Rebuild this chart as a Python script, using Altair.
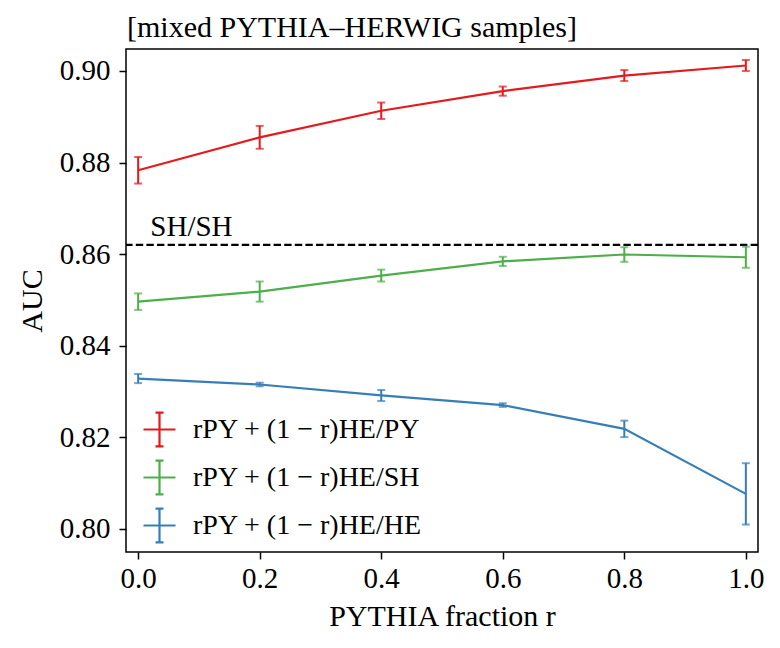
import altair as alt
import pandas as pd

# ---- data ----
r_values = [0.0, 0.2, 0.4, 0.6, 0.8, 1.0]
series_names = ["rPY + (1 − r)HE/PY", "rPY + (1 − r)HE/SH", "rPY + (1 − r)HE/HE"]
auc_py = [0.8783, 0.8855, 0.8913, 0.8956, 0.8990, 0.9012]
err_py = [0.0029, 0.0025, 0.0018, 0.0010, 0.0012, 0.0012]
auc_sh = [0.8496, 0.8518, 0.8553, 0.8584, 0.8599, 0.8593]
err_sh = [0.0018, 0.0022, 0.0013, 0.0010, 0.0016, 0.0023]
auc_he = [0.8328, 0.8315, 0.8291, 0.8270, 0.8218, 0.8076]
err_he = [0.0010, 0.0004, 0.0012, 0.0004, 0.0018, 0.0067]
sh_sh_auc = [0.862]
sh_sh_label = ["SH/SH"]
title_text = ["[mixed PYTHIA–HERWIG samples]"]
x_ticks = [0.0, 0.2, 0.4, 0.6, 0.8, 1.0]
y_ticks = [0.80, 0.82, 0.84, 0.86, 0.88, 0.90]
colors = ["#e41a1c", "#4daf4a", "#377eb8"]

FONT = "Liberation Serif"

rows = []
for name, vals, errs in zip(series_names, [auc_py, auc_sh, auc_he], [err_py, err_sh, err_he]):
    for r, v, e in zip(r_values, vals, errs):
        rows.append({"series": name, "r": r, "auc": v, "lo": v - e, "hi": v + e})
df = pd.DataFrame(rows)
ref_df = pd.DataFrame({"auc": sh_sh_auc, "label": sh_sh_label})
title_df = pd.DataFrame({"t": title_text})

xs = alt.Scale(domain=[-0.02, 1.02], nice=False, zero=False)
ys = alt.Scale(domain=[0.7949, 0.9048], nice=False, zero=False)
cs = alt.Scale(domain=series_names, range=colors)

x_enc = alt.X("r:Q", scale=xs, axis=alt.Axis(values=x_ticks, format=".1f", title="PYTHIA fraction r",
                                               labelPadding=5, titlePadding=8))
y_enc = alt.Y("auc:Q", scale=ys, axis=alt.Axis(values=y_ticks, format=".2f", title="AUC",
                                                 labelPadding=9, titlePadding=12))

sym = "M-1,0L1,0M0,-1.06L0,1.06M-0.25,-1.06L0.25,-1.06M-0.25,1.06L0.25,1.06"
legend = alt.Legend(title=None, orient="none", legendX=16, legendY=363, padding=0,
                    symbolType=sym, symbolSize=1024, symbolStrokeWidth=2.2,
                    labelFontSize=28, labelFont=FONT, labelColor="black",
                    labelOffset=16, rowPadding=5, labelLimit=500)

base = alt.Chart(df)

line = base.mark_line(strokeWidth=2.2).encode(
    x=x_enc, y=y_enc,
    color=alt.Color("series:N", scale=cs, legend=legend, sort=series_names),
)
bars = base.mark_rule(strokeWidth=2).encode(
    x="r:Q", y="lo:Q", y2="hi:Q",
    color=alt.Color("series:N", scale=cs, legend=None),
)
cap_lo = base.mark_tick(orient="horizontal", size=8, thickness=2).encode(
    x="r:Q", y="lo:Q", color=alt.Color("series:N", scale=cs, legend=None),
)
cap_hi = base.mark_tick(orient="horizontal", size=8, thickness=2).encode(
    x="r:Q", y="hi:Q", color=alt.Color("series:N", scale=cs, legend=None),
)

ref_rule = alt.Chart(ref_df).mark_rule(color="black", strokeWidth=2.2, strokeDash=[7.4, 3.2]).encode(
    y=alt.Y("auc:Q")
)
ref_text = alt.Chart(ref_df).mark_text(
    font=FONT, fontSize=29, color="black", align="left", baseline="alphabetic", dy=-9
).encode(
    x=alt.datum(0.02), y=alt.Y("auc:Q"), text="label:N"
)
title_mark = alt.Chart(title_df).mark_text(
    font=FONT, fontSize=30, color="black", align="left", baseline="alphabetic"
).encode(
    x=alt.value(1), y=alt.value(-12), text="t:N"
)

chart = alt.layer(ref_rule, ref_text, line, bars, cap_lo, cap_hi, title_mark).properties(
    width=632, height=503,
    autosize=alt.AutoSizeParams(type="none"),
    padding={"left": 118, "top": 41, "right": 14, "bottom": 88},
).configure_view(
    stroke="black", strokeWidth=1.5
).configure_axis(
    labelFont=FONT, labelFontSize=29, labelColor="black",
    titleFont=FONT, titleFontSize=30, titleColor="black", titleFontWeight="normal",
    tickColor="black", tickSize=7, tickWidth=1.5, domain=False, grid=False,
)

chart.save("out.html", embed_options={"renderer": "svg", "actions": False})
